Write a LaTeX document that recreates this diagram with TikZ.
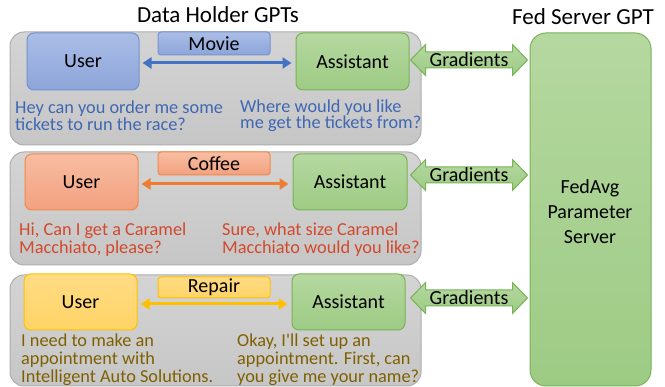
\documentclass[tikz,border=0pt]{standalone}
\usepackage{fontspec}
\setmainfont{Carlito}
\usetikzlibrary{arrows.meta,calc}

% palette
\definecolor{panelTop}{HTML}{D4D4D4}
\definecolor{panelBot}{HTML}{C6C6C6}
\definecolor{panelLine}{HTML}{AEAEAE}
\definecolor{blueTop}{HTML}{AABDE6}
\definecolor{blueBot}{HTML}{8DA5DA}
\definecolor{blueLine}{HTML}{7393D2}
\definecolor{blueArrow}{HTML}{4472C4}
\definecolor{blueText}{HTML}{3F67B4}
\definecolor{orangeTop}{HTML}{F8BDA2}
\definecolor{orangeBot}{HTML}{F3A17F}
\definecolor{orangeLine}{HTML}{EF8A4C}
\definecolor{orangeArrow}{HTML}{ED7D31}
\definecolor{orangeText}{HTML}{D2492B}
\definecolor{yellowTop}{HTML}{FFDB84}
\definecolor{yellowBot}{HTML}{FFD466}
\definecolor{yellowLine}{HTML}{FFC000}
\definecolor{yellowArrow}{HTML}{FFC000}
\definecolor{yellowText}{HTML}{7F6000}
\definecolor{greenTop}{HTML}{B5D8A0}
\definecolor{greenBot}{HTML}{9DCB84}
\definecolor{greenLine}{HTML}{78B356}

% body text with a fixed baseline distance, even when lines would touch
\newcommand\uttfont[1]{\fontsize{18.3}{#1}\selectfont\lineskiplimit=-20pt\lineskip=0pt\relax}

\tikzset{
  panel/.style={draw=panelLine, line width=1pt, rounded corners=14pt,
    top color=panelTop, bottom color=panelBot, inner sep=0pt},
  box/.style={line width=1pt, rounded corners=7pt, inner sep=0pt,
    font=\fontsize{20}{22}\selectfont, text=black},
  tagbox/.style={line width=1pt, rounded corners=3pt, inner sep=0pt,
    minimum width=112pt, font=\fontsize{20}{22}\selectfont, text=black},
  bluebox/.style={draw=blueLine, top color=blueTop, bottom color=blueBot},
  orangebox/.style={draw=orangeLine, top color=orangeTop, bottom color=orangeBot},
  yellowbox/.style={draw=yellowLine, top color=yellowTop, bottom color=yellowBot},
  greenbox/.style={draw=greenLine, top color=greenTop, bottom color=greenBot},
  talk/.style={line width=3pt, {Triangle[length=9pt,width=11pt]}-{Triangle[length=9pt,width=11pt]},
    shorten <=3pt, shorten >=4pt},
  utter/.style={align=left, inner sep=0pt, anchor=west, font=\uttfont{#1}},
  utter/.default=18,
  title/.style={font=\fontsize{23}{25}\selectfont, inner sep=0pt},
  gradlabel/.style={font=\fontsize{20}{22}\selectfont, inner sep=0pt},
  blockarrow/.style={draw=greenLine, line width=1pt, top color=greenTop, bottom color=greenBot,
    line join=miter}
}

\begin{document}
\begin{tikzpicture}[x=1pt,y=-1pt]
\useasboundingbox (0,0) rectangle (665,387);

% titles
\node[title] (tdh) at (218,15) {Data Holder GPTs};
\node[title] (tfs) at (583,17) {Fed Server GPT};

% parameter server
\node[box, greenbox, rounded corners=16pt, minimum width=121pt, minimum height=353pt]
  (srv) at (590.5,209.5) {};
\node[gradlabel, align=center, font=\fontsize{20}{25}\selectfont] (srvtxt) at (590,212)
  {FedAvg\\Parameter\\Server};

% ---------- dialogue panel 1 ----------
\node[panel, minimum width=411pt, minimum height=113pt] (p1) at (215.5,88.5) {};
\node[box, bluebox, minimum width=112pt, minimum height=57pt] (u1) at (83,61.5) {User};
\node[box, greenbox, minimum width=113pt, minimum height=57pt] (a1) at (352.5,61.5) {Assistant};
\node[tagbox, bluebox, minimum height=23pt] (t1) at (214,43.5) {Movie};
\draw[talk, blueArrow] (u1.east |- 0,63) -- (a1.west |- 0,63);
\node[utter=16.5, text=blueText] (q1) at (15,115.5) {Hey can you order me some\\tickets to run the race?};
\node[utter=16.5, text=blueText] (r1) at (240,115.5) {Where would you like\\me get the tickets from?};

% ---------- dialogue panel 2 ----------
\node[panel, minimum width=411pt, minimum height=113pt] (p2) at (215.5,208.5) {};
\node[box, orangebox, minimum width=113pt, minimum height=56pt] (u2) at (81.5,182) {User};
\node[box, greenbox, minimum width=114pt, minimum height=56pt] (a2) at (350,182) {Assistant};
\node[tagbox, orangebox, minimum height=23pt] (t2) at (214,163.5) {Coffee};
\draw[talk, orangeArrow] (u2.east |- 0,184) -- (a2.west |- 0,184);
\node[utter, text=orangeText] (q2) at (19,240) {Hi, Can I get a Caramel\\Macchiato, please?};
\node[utter, text=orangeText] (r2) at (222,240) {Sure, what size Caramel\\Macchiato would you like?};

% ---------- dialogue panel 3 ----------
\node[panel, minimum width=411pt, minimum height=111pt] (p3) at (215.5,330.5) {};
\node[box, yellowbox, minimum width=113pt, minimum height=56pt] (u3) at (80.5,302) {User};
\node[box, greenbox, minimum width=113pt, minimum height=56pt] (a3) at (348.5,302) {Assistant};
\node[tagbox, yellowbox, minimum height=21pt] (t3) at (214,287.5) {Repair};
\draw[talk, yellowArrow] (u3.east |- 0,304) -- (a3.west |- 0,304);
\node[utter, text=yellowText] (q3) at (21,360) {I need to make an\\appointment with\\Intelligent Auto Solutions.};
\node[utter, text=yellowText] (r3) at (237,360) {Okay, I\textquotesingle ll set up an\\appointment. First, can\\you give me your name?};

% ---------- gradient exchange (block double arrows) ----------
\foreach \p/\yy in {p1/60, p2/175, p3/298}{
  \coordinate (L) at ($(\p.east |- 0,\yy) + (-11pt,0)$);
  \coordinate (R) at ($(srv.west |- 0,\yy) + (-2pt,0)$);
  \path[blockarrow]
    (L) -- ++(15,-15.5) -- ++(0,7.5) -| ($(R)+(-15,-8)$) -- ++(0,-7.5) -- (R)
        -- ++(-15,15.5) -- ++(0,-7.5) -| ($(L)+(15,8)$) -- ++(0,7.5) -- cycle;
  \node[gradlabel] (g\p) at ($(L)!0.5!(R)$) {Gradients};
}
\end{tikzpicture}
\end{document}
